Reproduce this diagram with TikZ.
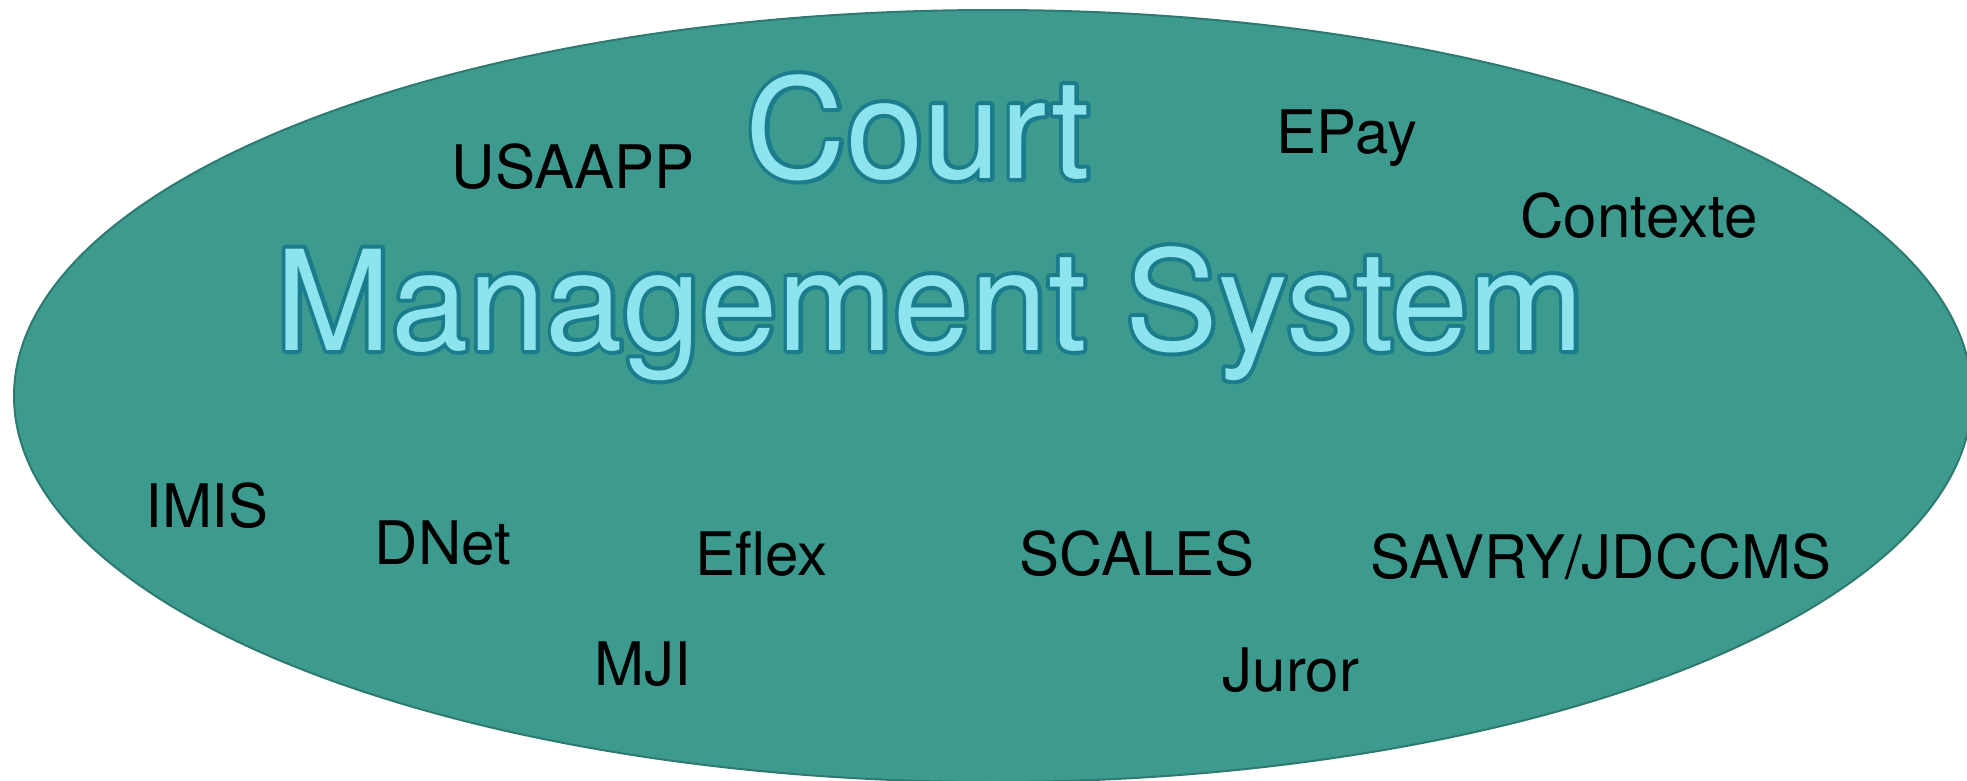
\documentclass[tikz,border=0pt]{standalone}
\usepackage{fontspec}
\setmainfont{TeX Gyre Heros}
\usepackage{tikz}
\usetikzlibrary{shapes.geometric,positioning}
\definecolor{cmsfill}{HTML}{3D9A8E}
\definecolor{cmsedge}{HTML}{2E7A70}
\definecolor{titlefill}{HTML}{8DE3EE}
\definecolor{titleedge}{HTML}{1B7D8C}
% stroked glyphs for the title outline
\newcommand{\strokedtext}[1]{\special{pdf:literal direct 2 Tr 8 w 1 j}#1\special{pdf:literal direct 0 Tr 1 w 0 j}}

\begin{document}
\begin{tikzpicture}
    [x=1pt,y=-1pt,
     lbl/.style={anchor=base,inner sep=0pt,text=black,font=\fontsize{60}{60}\selectfont},
     ttl/.style={anchor=base,inner sep=0pt,font=\fontsize{139}{139}\selectfont}]
    \useasboundingbox (0,0) rectangle (1967,780);
    \node (cms) [ellipse,fill=cmsfill,draw=cmsedge,line width=2pt,
      minimum width=1958pt,minimum height=772pt,inner sep=0pt] at (993,396) {};
    % outlined title
    \node (courtline) [ttl,text=titleedge] at (918,178) {\strokedtext{Court}};
    \node (cmsline) [ttl,text=titleedge] at (930,350) {\strokedtext{Management System}};
    \node (court) [ttl,text=titlefill] at (918,178) {Court};
    \node (cmsys) [ttl,text=titlefill] at (930,350) {Management System};
    % systems
    \node (usaapp)  [lbl] at (573,188)  {USAAPP};
    \node (epay)    [lbl] at (1347,153) {EPay};
    \node (contexte)[lbl] at (1639,237) {Contexte};
    \node (imis)    [lbl] at (207,527)  {IMIS};
    \node (dnet)    [lbl] at (443,564)  {DNet};
    \node (eflex)   [lbl] at (761,575)  {Eflex};
    \node (scales)  [lbl] at (1137,575) {SCALES};
    \node (savry)   [lbl] at (1601,578) {SAVRY/JDCCMS};
    \node (mji)     [lbl] at (643,685)  {MJI};
    \node (juror)   [lbl] at (1291,691) {Juror};
\end{tikzpicture}
\end{document}
